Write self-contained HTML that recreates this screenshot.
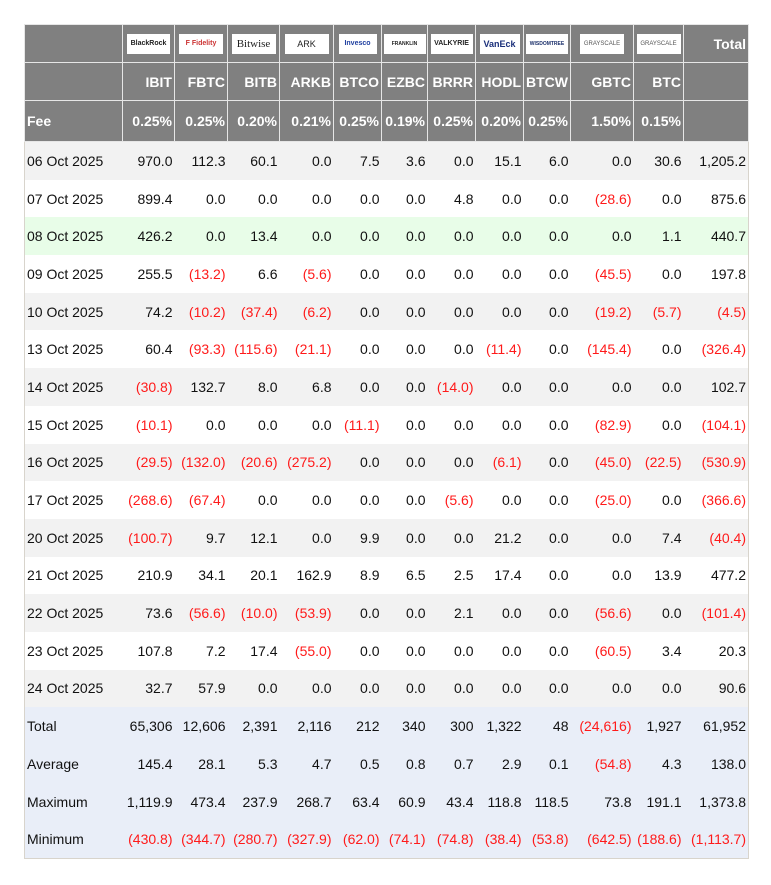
<!DOCTYPE html>
<html><head><meta charset="utf-8"><style>
body{margin:0;background:#fff;width:771px;height:885px;position:relative;font-family:"Liberation Sans",Arial,sans-serif}
table{position:absolute;left:24px;top:24px;border-collapse:collapse;table-layout:fixed;width:725px;border:1px solid #d8d4cc;font-size:14px;color:#111}
td{padding:0 2px 0 2px;text-align:right;white-space:nowrap;overflow:hidden}
td:first-child{text-align:left;padding-left:2px}
thead td{background:#808080;color:#fff;font-weight:bold;border:1px solid #e6e6e6;font-size:14px}
tr.h1 td{height:37px}
tr.h2 td{height:37px}
tr.h3 td{height:40px}
tbody td{height:37.7px}
tbody tr:nth-child(odd) td{background:#f2f2f2}
tbody tr:nth-child(even) td{background:#fff}
tbody tr.g td{background:#e8fde8}
tbody tr.s td{background:#e9eef8}
.r{color:#ff1a1a}
.logo{display:inline-block;background:#fff;height:20px;vertical-align:middle;font-size:7px;color:#222;line-height:20px;text-align:center;font-weight:bold}
thead tr.h1 td{text-align:center;padding:0}
thead tr.h1 td:last-child{text-align:right;padding-right:2px}
</style></head><body>
<table>
<colgroup><col style="width:98px"><col style="width:52px"><col style="width:53px"><col style="width:52px"><col style="width:54px"><col style="width:48px"><col style="width:46px"><col style="width:48px"><col style="width:48px"><col style="width:47px"><col style="width:63px"><col style="width:50px"><col style="width:65px"></colgroup>
<thead>
<tr class="h1"><td></td>
<td><span class="logo" style="width:43px">BlackRock</span></td>
<td><span class="logo" style="width:44px;color:#c33">F Fidelity</span></td>
<td><span class="logo" style="width:44px;font-size:11px;font-family:'Liberation Serif',serif;font-weight:normal">Bitwise</span></td>
<td><span class="logo" style="width:44px;font-size:9px;font-weight:normal">ARK</span></td>
<td><span class="logo" style="width:38px;color:#2040a0">Invesco</span></td>
<td><span class="logo" style="width:42px;font-size:5px">FRANKLIN</span></td>
<td><span class="logo" style="width:42px">VALKYRIE</span></td>
<td><span class="logo" style="width:40px;color:#1a2f7a;font-size:9px">VanEck</span></td>
<td><span class="logo" style="width:42px;color:#1a2f6a;font-size:5px">WISDOMTREE</span></td>
<td><span class="logo" style="width:44px;font-weight:normal;color:#555;font-size:6px">GRAYSCALE</span></td>
<td><span class="logo" style="width:44px;font-weight:normal;color:#555;font-size:6px">GRAYSCALE</span></td>
<td>Total</td></tr>
<tr class="h2"><td></td><td>IBIT</td><td>FBTC</td><td>BITB</td><td>ARKB</td><td>BTCO</td><td>EZBC</td><td>BRRR</td><td>HODL</td><td>BTCW</td><td>GBTC</td><td>BTC</td><td></td></tr>
<tr class="h3"><td>Fee</td><td>0.25%</td><td>0.25%</td><td>0.20%</td><td>0.21%</td><td>0.25%</td><td>0.19%</td><td>0.25%</td><td>0.20%</td><td>0.25%</td><td>1.50%</td><td>0.15%</td><td></td></tr>
</thead>
<tbody>
<tr><td>06 Oct 2025</td><td>970.0</td><td>112.3</td><td>60.1</td><td>0.0</td><td>7.5</td><td>3.6</td><td>0.0</td><td>15.1</td><td>6.0</td><td>0.0</td><td>30.6</td><td>1,205.2</td></tr>
<tr><td>07 Oct 2025</td><td>899.4</td><td>0.0</td><td>0.0</td><td>0.0</td><td>0.0</td><td>0.0</td><td>4.8</td><td>0.0</td><td>0.0</td><td class="r">(28.6)</td><td>0.0</td><td>875.6</td></tr>
<tr class="g"><td>08 Oct 2025</td><td>426.2</td><td>0.0</td><td>13.4</td><td>0.0</td><td>0.0</td><td>0.0</td><td>0.0</td><td>0.0</td><td>0.0</td><td>0.0</td><td>1.1</td><td>440.7</td></tr>
<tr><td>09 Oct 2025</td><td>255.5</td><td class="r">(13.2)</td><td>6.6</td><td class="r">(5.6)</td><td>0.0</td><td>0.0</td><td>0.0</td><td>0.0</td><td>0.0</td><td class="r">(45.5)</td><td>0.0</td><td>197.8</td></tr>
<tr><td>10 Oct 2025</td><td>74.2</td><td class="r">(10.2)</td><td class="r">(37.4)</td><td class="r">(6.2)</td><td>0.0</td><td>0.0</td><td>0.0</td><td>0.0</td><td>0.0</td><td class="r">(19.2)</td><td class="r">(5.7)</td><td class="r">(4.5)</td></tr>
<tr><td>13 Oct 2025</td><td>60.4</td><td class="r">(93.3)</td><td class="r">(115.6)</td><td class="r">(21.1)</td><td>0.0</td><td>0.0</td><td>0.0</td><td class="r">(11.4)</td><td>0.0</td><td class="r">(145.4)</td><td>0.0</td><td class="r">(326.4)</td></tr>
<tr><td>14 Oct 2025</td><td class="r">(30.8)</td><td>132.7</td><td>8.0</td><td>6.8</td><td>0.0</td><td>0.0</td><td class="r">(14.0)</td><td>0.0</td><td>0.0</td><td>0.0</td><td>0.0</td><td>102.7</td></tr>
<tr><td>15 Oct 2025</td><td class="r">(10.1)</td><td>0.0</td><td>0.0</td><td>0.0</td><td class="r">(11.1)</td><td>0.0</td><td>0.0</td><td>0.0</td><td>0.0</td><td class="r">(82.9)</td><td>0.0</td><td class="r">(104.1)</td></tr>
<tr><td>16 Oct 2025</td><td class="r">(29.5)</td><td class="r">(132.0)</td><td class="r">(20.6)</td><td class="r">(275.2)</td><td>0.0</td><td>0.0</td><td>0.0</td><td class="r">(6.1)</td><td>0.0</td><td class="r">(45.0)</td><td class="r">(22.5)</td><td class="r">(530.9)</td></tr>
<tr><td>17 Oct 2025</td><td class="r">(268.6)</td><td class="r">(67.4)</td><td>0.0</td><td>0.0</td><td>0.0</td><td>0.0</td><td class="r">(5.6)</td><td>0.0</td><td>0.0</td><td class="r">(25.0)</td><td>0.0</td><td class="r">(366.6)</td></tr>
<tr><td>20 Oct 2025</td><td class="r">(100.7)</td><td>9.7</td><td>12.1</td><td>0.0</td><td>9.9</td><td>0.0</td><td>0.0</td><td>21.2</td><td>0.0</td><td>0.0</td><td>7.4</td><td class="r">(40.4)</td></tr>
<tr><td>21 Oct 2025</td><td>210.9</td><td>34.1</td><td>20.1</td><td>162.9</td><td>8.9</td><td>6.5</td><td>2.5</td><td>17.4</td><td>0.0</td><td>0.0</td><td>13.9</td><td>477.2</td></tr>
<tr><td>22 Oct 2025</td><td>73.6</td><td class="r">(56.6)</td><td class="r">(10.0)</td><td class="r">(53.9)</td><td>0.0</td><td>0.0</td><td>2.1</td><td>0.0</td><td>0.0</td><td class="r">(56.6)</td><td>0.0</td><td class="r">(101.4)</td></tr>
<tr><td>23 Oct 2025</td><td>107.8</td><td>7.2</td><td>17.4</td><td class="r">(55.0)</td><td>0.0</td><td>0.0</td><td>0.0</td><td>0.0</td><td>0.0</td><td class="r">(60.5)</td><td>3.4</td><td>20.3</td></tr>
<tr><td>24 Oct 2025</td><td>32.7</td><td>57.9</td><td>0.0</td><td>0.0</td><td>0.0</td><td>0.0</td><td>0.0</td><td>0.0</td><td>0.0</td><td>0.0</td><td>0.0</td><td>90.6</td></tr>
<tr class="s"><td>Total</td><td>65,306</td><td>12,606</td><td>2,391</td><td>2,116</td><td>212</td><td>340</td><td>300</td><td>1,322</td><td>48</td><td class="r">(24,616)</td><td>1,927</td><td>61,952</td></tr>
<tr class="s"><td>Average</td><td>145.4</td><td>28.1</td><td>5.3</td><td>4.7</td><td>0.5</td><td>0.8</td><td>0.7</td><td>2.9</td><td>0.1</td><td class="r">(54.8)</td><td>4.3</td><td>138.0</td></tr>
<tr class="s"><td>Maximum</td><td>1,119.9</td><td>473.4</td><td>237.9</td><td>268.7</td><td>63.4</td><td>60.9</td><td>43.4</td><td>118.8</td><td>118.5</td><td>73.8</td><td>191.1</td><td>1,373.8</td></tr>
<tr class="s"><td>Minimum</td><td class="r">(430.8)</td><td class="r">(344.7)</td><td class="r">(280.7)</td><td class="r">(327.9)</td><td class="r">(62.0)</td><td class="r">(74.1)</td><td class="r">(74.8)</td><td class="r">(38.4)</td><td class="r">(53.8)</td><td class="r">(642.5)</td><td class="r">(188.6)</td><td class="r">(1,113.7)</td></tr>
</tbody>
</table>
</body></html>
